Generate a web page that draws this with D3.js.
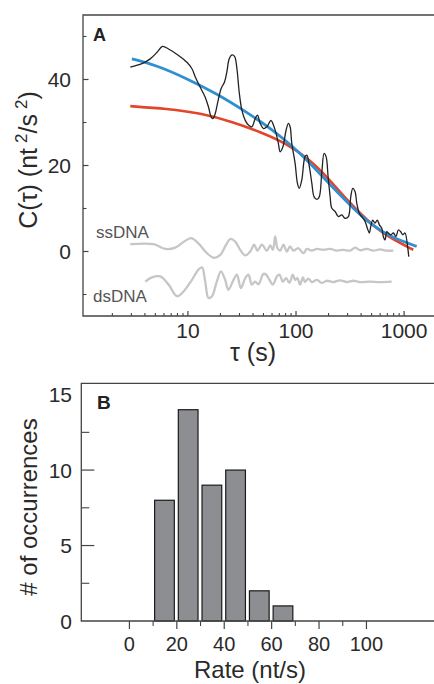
<!DOCTYPE html>
<html><head><meta charset="utf-8">
<script src="https://cdn.jsdelivr.net/npm/d3@7"></script>
<style>
html,body{margin:0;padding:0;background:#fff;}
svg{display:block;font-family:"Liberation Sans",Arial,Helvetica,sans-serif;}
</style></head>
<body>
<svg id="chart" width="434" height="684"></svg>
<script>
// ---------- Panel A data ----------
const measuredTau = [2.93,3.76,4.48,5.17,5.82,6.62,8.19,9.79,10.9,11.7,13.0,14.45,15.5,16.4,17.0,17.9,18.9,20.3,21.8,22.9,24.1,25.5,27.0,28.4,29.8,31.6,33.9,36.3,39.0,41.9,44.0,46.6,50.0,53.7,58.7,61.8,65.5,68.7,71.3,75.5,80.9,85.0,88.2,91.4,98.1,103,107,113,121,126,133,140,147,156,164,173,182,190,198,207,214,230,247,265,284,305,321,335,352,365,385,406,435,457,477,491,513,538,565,590,621,642,666,691,715,752,795,841,884,930,971,1019,1071,1104];
const measuredC = [42.9,43.7,44.8,46.3,47.7,47.1,45.6,44.0,42.5,40.6,38.2,35.9,33.6,31.3,30.9,32.1,34.8,37.9,39.4,41.7,44.8,45.7,45.4,42.5,37.1,32.8,30.5,29.4,29.0,30.9,31.7,29.8,28.6,29.0,30.5,29.4,27.4,25.1,23.2,24.3,28.2,29.8,29.0,25.1,20.5,15.9,14.7,16.6,22.0,22.4,19.7,15.9,12.7,12.1,12.7,18.2,22.8,22.0,17.4,12.7,10.1,9.3,8.1,8.5,7.7,8.1,12.7,14.7,13.9,11.2,8.9,8.1,7.0,5.4,4.3,5.8,7.3,6.6,7.3,6.2,5.4,3.5,2.7,4.6,4.3,3.9,4.3,3.5,5.0,4.6,3.9,4.3,1.6,-1.2];

const blueTau = [3.03,5.16,9.8,18.5,35,61.7,94.6,145,222,339,519,795,1306];
const blueC   = [44.8,43.3,40.2,36.7,32.4,28.2,24.3,19.7,14.7,10.0,5.8,3.1,1.2];

const redTau = [2.93,6.4,13,26.3,46.6,82.2,135,206,295,451,692,1216];
const redC   = [33.8,33.2,32.2,30.1,27.8,25.1,21.3,16.6,12.0,7.3,3.5,0.4];

const ssTau = [2.93,4.81,6.17,7.64,9.1,10.7,12.5,15.0,17.5,19.9,22.6,24.6,27.4,30.4,33.9,37.7,41.0,44.0,48.3,53.7,57.7,61.1,64.1,67.3,71.3,76.5,82.2,88.2,94.6,105,117,126,140,156,179,207,238,274,316,352,391,451,519,598,691,795];
const ssC   = [1.7,1.7,0.6,0.9,2.2,3.1,1.9,-0.4,-1.5,-0.8,1.6,2.9,2.3,0.4,-0.9,0,1.6,0.2,1.6,0.2,1.4,0.4,3.5,0.8,0.2,1.6,0,1.2,0.2,0.8,-0.4,0.6,0.2,0.6,0.4,0.6,0.2,0.4,0.2,0.9,0.3,0.6,0.2,0.5,0.2,0.2];

const dsTau = [4.03,4.65,5.54,6.62,7.91,9.1,10.9,12.5,13.5,14.45,15.5,16.7,18.5,20.2,22.1,23.7,26.4,28.4,30.9,33.9,36.3,39.0,41.9,44.9,50.0,53.0,56.8,61.1,66.5,70.3,75.5,81.0,86.9,93.3,98.1,103,109,116,121,130,140,156,173,193,222,256,295,339,391,484,598,767];
const dsC   = [-7.0,-6.0,-5.8,-7.7,-10.4,-9.3,-6.6,-4.2,-3.7,-7.0,-10.8,-10.4,-7.0,-4.6,-6.6,-8.9,-6.6,-5.4,-8.5,-6.2,-5.4,-7.7,-7.0,-7.6,-5.2,-5.4,-6.6,-7.7,-5.8,-5.4,-7.0,-6.2,-7.3,-5.4,-6.6,-6.2,-7.7,-6.0,-7.1,-6.3,-7.1,-6.6,-7.3,-6.8,-7.1,-6.7,-7.1,-6.8,-7.1,-7.0,-7.1,-7.0];

const aYTicks = [0,20,40];
const aYMinor = [-10,10,30,50];
const aXTicks = [10,100,1000];

// ---------- Panel B data ----------
const binStart = [10,20,30,40,50,60];
const binEnd   = [20,30,40,50,60,70];
const counts   = [8,14,9,10,2,1];
const bYTicks = [0,5,10,15];
const bYMinor = [2.5,7.5,12.5];
const bXTicks = [0,20,40,60,80,100];
const bXMinor = [10,30,50,70,90];

const svg = d3.select("#chart");
const W = 434;
const axisCol = "#444";
const textCol = "#2a2a2a";

// ================= Panel A =================
const ax = {left:83, top:15, bottom:316};
const xA = d3.scaleLog().domain([1.07,1890]).range([ax.left, W]);
const yA = d3.scaleLinear().domain([-15,55]).range([ax.bottom, ax.top]);

const gA = svg.append("g");
gA.append("path").attr("d",`M${W},${ax.top}H${ax.left}V${ax.bottom}H${W}`)
  .attr("fill","none").attr("stroke",axisCol).attr("stroke-width",1.3);

aYTicks.forEach(v=>{
  gA.append("line").attr("x1",ax.left).attr("x2",ax.left+5.5).attr("y1",yA(v)).attr("y2",yA(v)).attr("stroke",axisCol).attr("stroke-width",1.2);
  gA.append("text").attr("x",71).attr("y",yA(v)).attr("dy","0.36em").attr("text-anchor","end")
    .attr("font-size",21).attr("fill",textCol).text(v);
});
aYMinor.forEach(v=>{
  gA.append("line").attr("x1",ax.left).attr("x2",ax.left+3.5).attr("y1",yA(v)).attr("y2",yA(v)).attr("stroke",axisCol).attr("stroke-width",1.1);
});
const minorX = [];
[1,10,100,1000].forEach(d=>{ for(let k=2;k<=9;k++){ const v=d*k; if(xA(v)<W-1 && v>1.1) minorX.push(v);} });
minorX.forEach(v=>{
  gA.append("line").attr("x1",xA(v)).attr("x2",xA(v)).attr("y1",ax.bottom).attr("y2",ax.bottom-3).attr("stroke",axisCol).attr("stroke-width",1.1);
});
aXTicks.forEach(v=>{
  gA.append("line").attr("x1",xA(v)).attr("x2",xA(v)).attr("y1",ax.bottom).attr("y2",ax.bottom-5).attr("stroke",axisCol).attr("stroke-width",1.2);
  gA.append("text").attr("x",xA(v)).attr("y",338).attr("text-anchor","middle")
    .attr("font-size",21).attr("fill",textCol).text(v);
});

const lineA = d3.line().x(d=>xA(d[0])).y(d=>yA(d[1]));
const zip = (a,b)=>a.map((v,i)=>[v,b[i]]);

gA.append("path").datum(zip(ssTau,ssC)).attr("d",lineA.curve(d3.curveCatmullRom.alpha(0.5)))
  .attr("fill","none").attr("stroke","#c6c6c6").attr("stroke-width",2.3).attr("stroke-linejoin","round");
gA.append("path").datum(zip(dsTau,dsC)).attr("d",lineA.curve(d3.curveCatmullRom.alpha(0.5)))
  .attr("fill","none").attr("stroke","#c6c6c6").attr("stroke-width",2.3).attr("stroke-linejoin","round");

gA.append("path").datum(zip(redTau,redC)).attr("d",lineA.curve(d3.curveBasis))
  .attr("fill","none").attr("stroke","#e2452a").attr("stroke-width",2.6);
gA.append("path").datum(zip(blueTau,blueC)).attr("d",lineA.curve(d3.curveBasis))
  .attr("fill","none").attr("stroke","#2f8fd0").attr("stroke-width",2.8);
gA.append("path").datum(zip(measuredTau,measuredC)).attr("d",lineA.curve(d3.curveCatmullRom.alpha(0.5)))
  .attr("fill","none").attr("stroke","#222").attr("stroke-width",1.3).attr("stroke-linejoin","round");

gA.append("text").attr("x",96).attr("y",238).attr("font-size",17).attr("fill","#555").text("ssDNA");
gA.append("text").attr("x",93).attr("y",302).attr("font-size",17).attr("fill","#555").text("dsDNA");

gA.append("text").attr("x",93).attr("y",41).attr("font-size",18).attr("font-weight","bold").attr("fill","#222").text("A");

const tA = gA.append("text").attr("transform","translate(37,160) rotate(-90)").attr("text-anchor","middle")
  .attr("font-size",25).attr("fill",textCol);
tA.append("tspan").text("C(τ) (nt\u2009");
tA.append("tspan").attr("dy",-10).attr("font-size",17).text("2");
tA.append("tspan").attr("dy",10).text("/s\u2009");
tA.append("tspan").attr("dy",-10).attr("font-size",17).text("2");
tA.append("tspan").attr("dy",10).text(")");

gA.append("text").attr("x",253).attr("y",361).attr("text-anchor","middle").attr("font-size",25).attr("fill",textCol).text("τ (s)");

// ================= Panel B =================
const bx = {left:81.3, top:383.3, bottom:621};
const xB = d3.scaleLinear().domain([-20.3,128.5]).range([bx.left, W]);
const yB = d3.scaleLinear().domain([0,15.75]).range([bx.bottom, bx.top]);
const gB = svg.append("g");

gB.selectAll("rect").data(counts).join("rect")
  .attr("x",(d,i)=>xB(binStart[i])+1.5)
  .attr("width",(d,i)=>xB(binEnd[i])-xB(binStart[i])-4)
  .attr("y",d=>yB(d)).attr("height",d=>yB(0)-yB(d))
  .attr("fill","#8d8e92").attr("stroke","#1a1a1a").attr("stroke-width",1.2);

gB.append("path").attr("d",`M${W},${bx.top}H${bx.left}V${bx.bottom}H${W}`)
  .attr("fill","none").attr("stroke",axisCol).attr("stroke-width",1.3);

bYTicks.forEach(v=>{
  if(v>0 && v<15) gB.append("line").attr("x1",bx.left).attr("x2",bx.left+13).attr("y1",yB(v)).attr("y2",yB(v)).attr("stroke",axisCol).attr("stroke-width",1.2);
  gB.append("text").attr("x",72).attr("y",yB(v)).attr("dy","0.36em").attr("text-anchor","end")
    .attr("font-size",21).attr("fill",textCol).text(v);
});
bYMinor.forEach(v=>{
  gB.append("line").attr("x1",bx.left).attr("x2",bx.left+8).attr("y1",yB(v)).attr("y2",yB(v)).attr("stroke",axisCol).attr("stroke-width",1.1);
});
bXTicks.forEach(v=>{
  gB.append("line").attr("x1",xB(v)).attr("x2",xB(v)).attr("y1",bx.bottom).attr("y2",bx.bottom+8).attr("stroke",axisCol).attr("stroke-width",1.2);
  gB.append("text").attr("x",xB(v)).attr("y",651).attr("text-anchor","middle")
    .attr("font-size",20).attr("fill",textCol).text(v);
});
bXMinor.forEach(v=>{
  gB.append("line").attr("x1",xB(v)).attr("x2",xB(v)).attr("y1",bx.bottom).attr("y2",bx.bottom+5).attr("stroke",axisCol).attr("stroke-width",1.1);
});

gB.append("text").attr("x",97).attr("y",409).attr("font-size",19).attr("font-weight","bold").attr("fill","#222").text("B");
gB.append("text").attr("transform","translate(37,507) rotate(-90)").attr("text-anchor","middle")
  .attr("font-size",24).attr("fill",textCol).text("# of occurrences");
gB.append("text").attr("x",250).attr("y",678).attr("text-anchor","middle").attr("font-size",24).attr("fill",textCol).text("Rate (nt/s)");
</script>
</body></html>
